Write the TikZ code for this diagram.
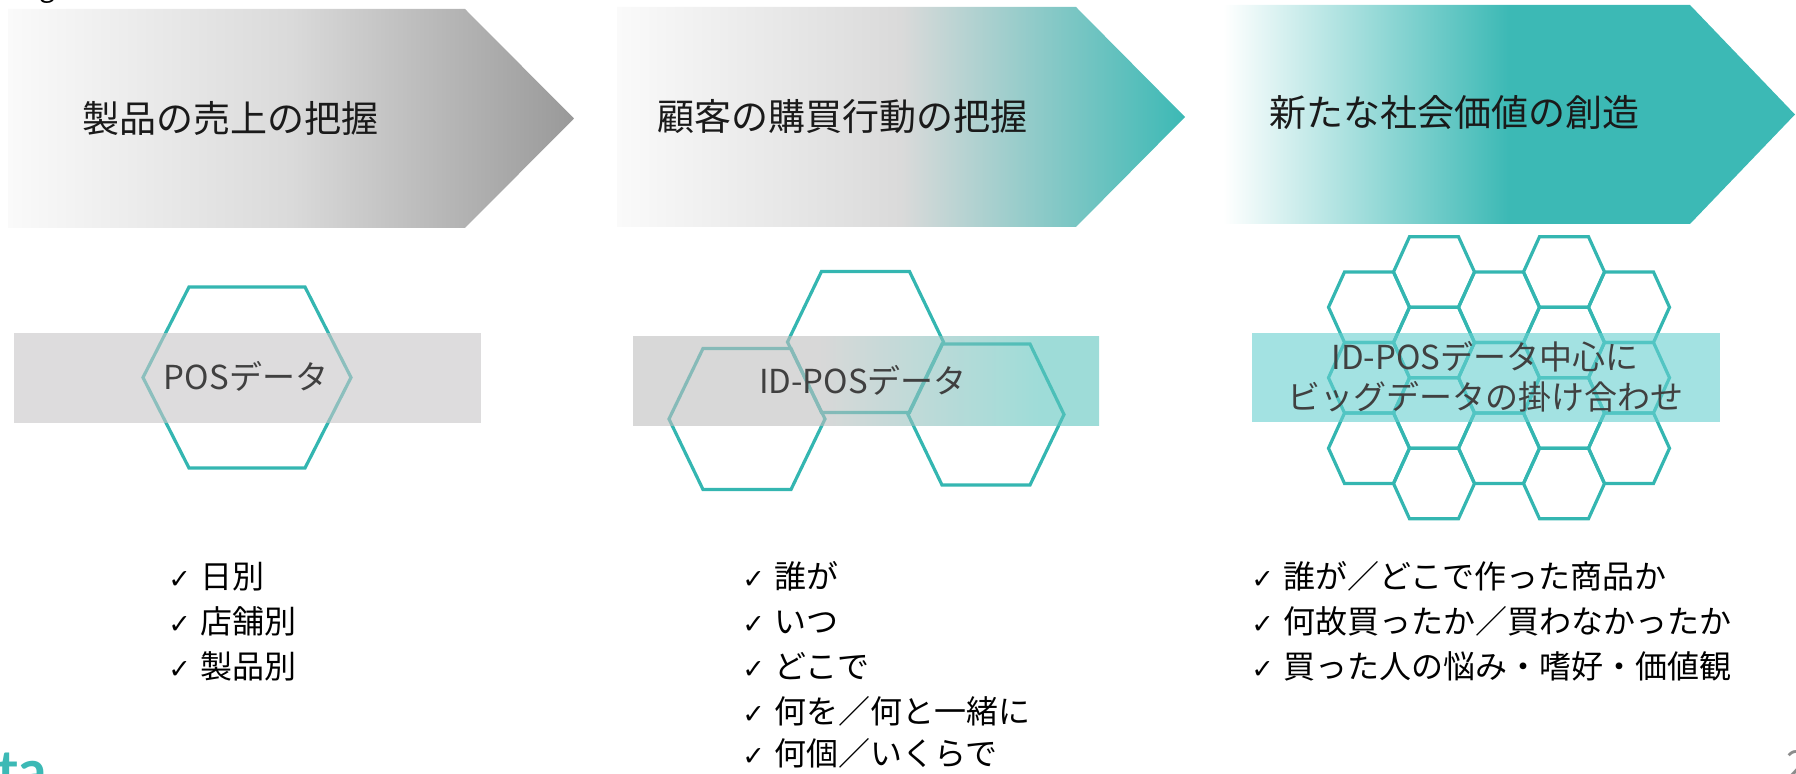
\documentclass[tikz,border=0pt]{standalone}
\usepackage{fontspec}
\setmainfont{Noto Sans CJK JP}
\newfontfamily\chkfont{DejaVu Sans}
\newfontfamily\logofont{Lato}
\definecolor{tealline}{RGB}{52,182,177}
\definecolor{tealfill}{RGB}{60,185,181}
\definecolor{arrowgrey}{RGB}{153,153,153}
\definecolor{midgrey}{RGB}{218,218,218}
\definecolor{nearwhite}{RGB}{250,250,250}
\definecolor{bandone}{RGB}{199,197,198}
\definecolor{bandgrey}{RGB}{190,190,190}
\definecolor{bandteal}{RGB}{93,197,190}
\definecolor{bandthree}{RGB}{102,207,207}
\definecolor{bandtext}{RGB}{64,64,64}
\definecolor{titletext}{RGB}{26,26,26}
\definecolor{pagegrey}{RGB}{140,140,140}
\pgfdeclarehorizontalshading{arrowone}{100bp}{color(0bp)=(nearwhite); color(25bp)=(nearwhite); color(50bp)=(midgrey); color(75bp)=(arrowgrey); color(100bp)=(arrowgrey)}
\pgfdeclarehorizontalshading{arrowtwo}{100bp}{color(0bp)=(nearwhite); color(25bp)=(nearwhite); color(50bp)=(midgrey); color(75bp)=(tealfill); color(100bp)=(tealfill)}
\pgfdeclarehorizontalshading{arrowthree}{100bp}{color(0bp)=(white); color(25bp)=(white); color(50bp)=(tealfill); color(100bp)=(tealfill)}
\pgfdeclarehorizontalshading{bandtwo}{100bp}{color(0bp)=(bandgrey); color(45bp)=(bandgrey); color(69bp)=(bandteal); color(100bp)=(bandteal)}
\newcommand\hexcell[5]{\draw[hexline, shift={(#1,#2)}] (-#3,0) -- (-#4,-#5) -- (#4,-#5) -- (#3,0) -- (#4,#5) -- (-#4,#5) -- cycle;}
\newcommand\chkline[1]{\makebox[16pt][l]{\chkfont\fontsize{13.5}{16}\selectfont ✓}#1}
\begin{document}
\begin{tikzpicture}[x=0.5pt, y=-0.5pt,
  hexline/.style={draw=tealline, line width=1.6pt, line join=miter},
  title/.style={anchor=west, inner sep=0pt, text=titletext, font=\fontsize{18.5}{22}\selectfont},
  bandlabel/.style={inner sep=0pt, text=bandtext, align=center, font=\fontsize{16.5}{20}\selectfont},
  item/.style={anchor=base west, inner sep=0pt, text=black, font=\fontsize{16}{20}\selectfont}]
\useasboundingbox (0,0) rectangle (1796,774);
% chevrons
\path[shading=arrowone] (8,9) -- (465,9) -- (574,118.5) -- (465,228) -- (8,228) -- cycle;
\path[shading=arrowtwo] (617,7) -- (1076,7) -- (1185,117) -- (1076,227) -- (617,227) -- cycle;
\path[shading=arrowthree] (1223,5) -- (1690,5) -- (1795,114.5) -- (1690,224) -- (1223,224) -- cycle;
\node[title] (t1) at (82,118.5) {製品の売上の把握};
\node[title] (t2) at (657,117) {顧客の購買行動の把握};
\node[title] (t3) at (1269,113) {新たな社会価値の創造};
% panel 1
\hexcell{247}{377.5}{104}{58}{90.5}
\fill[bandone, opacity=0.6] (14,333) rectangle (481,423);
\node[bandlabel] (b1) at (246,376) {POSデータ};
% panel 2
\hexcell{865.5}{342}{78}{44}{70.5}
\hexcell{747}{419}{78}{44}{70.5}
\hexcell{986}{414.5}{78}{44}{70.5}
\path[shading=bandtwo, opacity=0.6] (633,337) rectangle (1099,426);
\node[bandlabel] (b2) at (863,380) {ID-POSデータ};
% panel 3
\foreach \cx in {1369,1499,1629}{\foreach \cy in {307.25,377.75,448.25}{\hexcell{\cx}{\cy}{40.5}{24.5}{35.25}}}
\foreach \cx in {1434,1564}{\foreach \cy in {272,342.5,413,483.5}{\hexcell{\cx}{\cy}{40.5}{24.5}{35.25}}}
\fill[bandthree, opacity=0.6] (1252,333) rectangle (1720,422);
\node[bandlabel] (b3) at (1485,377) {ID-POSデータ中心に\\ビッグデータの掛け合わせ};
% check lists
\node[item] (a1) at (168,589) {\chkline{日別}};
\node[item] (a2) at (168,634) {\chkline{店舗別}};
\node[item] (a3) at (168,679) {\chkline{製品別}};
\node[item] (c1) at (742,589) {\chkline{誰が}};
\node[item] (c2) at (742,634) {\chkline{いつ}};
\node[item] (c3) at (742,679) {\chkline{どこで}};
\node[item] (c4) at (742,724) {\chkline{何を／何と一緒に}};
\node[item] (c5) at (742,766) {\chkline{何個／いくらで}};
\node[item] (d1) at (1251,589) {\chkline{誰が／どこで作った商品か}};
\node[item] (d2) at (1251,634) {\chkline{何故買ったか／買わなかったか}};
\node[item] (d3) at (1251,679) {\chkline{買った人の悩み・嗜好・価値観}};
% cropped fragments at the edges
\begin{scope}
\clip (0,0) rectangle (1796,774);
\node[anchor=base, inner sep=0pt, font=\fontsize{14}{16}\selectfont] (g) at (47,-3) {g};
\node[anchor=base west, inner sep=0pt, text=tealfill, font=\logofont\bfseries\fontsize{28}{30}\selectfont] (logo) at (-3,791) {ta};
\node[anchor=north west, inner sep=0pt, text=pagegrey, font=\fontsize{20}{24}\selectfont] (pg) at (1786,750) {2};
\end{scope}
\end{tikzpicture}
\end{document}
